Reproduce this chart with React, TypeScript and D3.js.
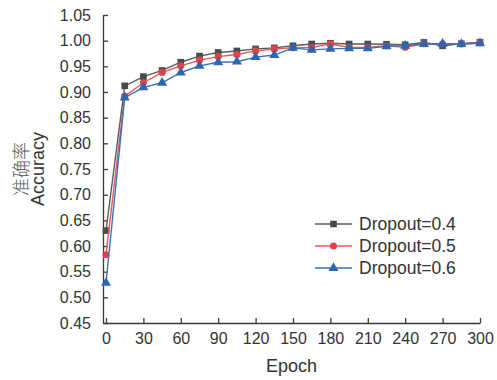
import React, { useEffect, useRef } from "react";
import * as d3 from "d3";

const epochs = [0, 15, 30, 45, 60, 75, 90, 105, 120, 135, 150, 165, 180, 195, 210, 225, 240, 255, 270, 285, 300];
const dropout04 = [0.63, 0.912, 0.93, 0.942, 0.958, 0.97, 0.977, 0.98, 0.984, 0.986, 0.99, 0.9935, 0.995, 0.9935, 0.9935, 0.993, 0.992, 0.9965, 0.99, 0.994, 0.997];
const dropout05 = [0.583, 0.892, 0.918, 0.938, 0.951, 0.962, 0.969, 0.973, 0.98, 0.984, 0.986, 0.987, 0.9935, 0.987, 0.987, 0.99, 0.987, 0.994, 0.9935, 0.9935, 0.996];
const dropout06 = [0.528, 0.889, 0.909, 0.918, 0.938, 0.951, 0.958, 0.959, 0.968, 0.972, 0.986, 0.982, 0.984, 0.985, 0.985, 0.989, 0.99, 0.9935, 0.994, 0.9935, 0.995];
const seriesNames = ["Dropout=0.4", "Dropout=0.5", "Dropout=0.6"];
const xTicks = [0, 30, 60, 90, 120, 150, 180, 210, 240, 270, 300];
const yTicks = [0.45, 0.5, 0.55, 0.6, 0.65, 0.7, 0.75, 0.8, 0.85, 0.9, 0.95, 1.0, 1.05];

const W = 497;
const H = 380;
const FONT = "'Liberation Sans', Arial, sans-serif";

export default function App() {
  const ref = useRef<SVGSVGElement | null>(null);

  useEffect(() => {
    const svg = d3.select(ref.current);
    svg.selectAll("*").remove();

    const x = d3.scaleLinear().domain([-2.4, 300]).range([103, 480]);
    const y = d3.scaleLinear().domain([0.45, 1.05]).range([323, 15]);

    const axisColor = "#3a3a3a";
    const textColor = "#333";

    // x axis
    const gx = svg.append("g").attr("transform", `translate(0,${y(0.45)})`);
    gx.call(
      d3.axisBottom(x).tickValues(xTicks).tickSizeInner(-5).tickSizeOuter(0).tickPadding(10).tickFormat(d3.format("d"))
    );
    gx.select(".domain").attr("stroke", axisColor).attr("stroke-width", 1.3);
    gx.selectAll(".tick line").attr("stroke", axisColor).attr("stroke-width", 1.3);
    gx.selectAll(".tick text").attr("fill", textColor).style("font-family", FONT).style("font-size", "16px");

    // y axis
    const gy = svg.append("g").attr("transform", `translate(${x.range()[0]},0)`);
    gy.call(
      d3.axisLeft(y).tickValues(yTicks).tickSizeInner(-5).tickSizeOuter(0).tickPadding(12).tickFormat(d3.format(".2f"))
    );
    gy.select(".domain").attr("stroke", axisColor).attr("stroke-width", 1.3);
    gy.selectAll(".tick line").attr("stroke", axisColor).attr("stroke-width", 1.3);
    gy.selectAll(".tick text").attr("fill", textColor).style("font-family", FONT).style("font-size", "16px");

    // axis titles
    svg
      .append("text")
      .attr("x", (x.range()[0] + x.range()[1]) / 2)
      .attr("y", 372)
      .attr("text-anchor", "middle")
      .attr("fill", textColor)
      .style("font-family", FONT)
      .style("font-size", "18px")
      .text("Epoch");

    const midY = (y.range()[0] + y.range()[1]) / 2;
    svg
      .append("text")
      .attr("transform", `translate(44,${midY}) rotate(-90)`)
      .attr("text-anchor", "middle")
      .attr("fill", textColor)
      .style("font-family", FONT)
      .style("font-size", "18px")
      .text("Accuracy");
    svg
      .append("text")
      .attr("transform", `translate(28,${midY}) rotate(-90)`)
      .attr("text-anchor", "middle")
      .attr("fill", "#555")
      .style("font-family", "'Noto Sans CJK SC', sans-serif")
      .style("font-weight", 300)
      .style("font-size", "18px")
      .text("准确率");

    const series = [
      { name: seriesNames[0], values: dropout04, line: "#5a5a5a", fill: "#4a4a4a", symbol: d3.symbolSquare, size: 44 },
      { name: seriesNames[1], values: dropout05, line: "#e0585b", fill: "#e04449", symbol: d3.symbolCircle, size: 40 },
      { name: seriesNames[2], values: dropout06, line: "#3a70b8", fill: "#2c66b0", symbol: d3.symbolTriangle, size: 44 },
    ];

    const line = d3
      .line<number>()
      .x((_, i) => x(epochs[i]))
      .y((d) => y(d));

    series.forEach((s) => {
      const g = svg.append("g");
      g.append("path")
        .datum(s.values)
        .attr("d", line)
        .attr("fill", "none")
        .attr("stroke", s.line)
        .attr("stroke-width", 1.4);
      g.selectAll("path.m")
        .data(s.values)
        .join("path")
        .attr("class", "m")
        .attr("d", d3.symbol().type(s.symbol).size(s.size)())
        .attr("transform", (d, i) => `translate(${x(epochs[i])},${y(d)})`)
        .attr("fill", s.fill);
    });

    // legend
    const legend = svg.append("g");
    const rowY = [224, 246, 268];
    series.forEach((s, i) => {
      const row = legend.append("g").attr("transform", `translate(0,${rowY[i]})`);
      row.append("line").attr("x1", 315).attr("x2", 352).attr("stroke", s.line).attr("stroke-width", 1.4);
      row
        .append("path")
        .attr("d", d3.symbol().type(s.symbol).size(s.size)())
        .attr("transform", "translate(333.5,0)")
        .attr("fill", s.fill);
      row
        .append("text")
        .attr("x", 359)
        .attr("y", 6)
        .attr("fill", textColor)
        .style("font-family", FONT)
        .style("font-size", "17.5px")
        .text(s.name);
    });
  }, []);

  return (
    <svg
      ref={ref}
      width={W}
      height={H}
      style={{ position: "absolute", left: 0, top: 0, background: "#fff" }}
    />
  );
}
